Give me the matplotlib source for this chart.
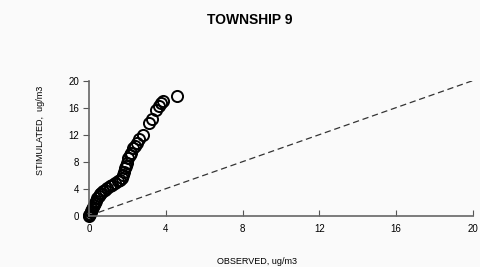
import matplotlib.pyplot as plt
import numpy as np

plt.rcParams['font.family'] = ['Liberation Sans', 'DejaVu Sans']

# observed vs simulated concentrations
observed = [0.0, 0.02, 0.05, 0.08, 0.1, 0.16, 0.2, 0.26, 0.3, 0.35, 0.42, 0.5,
            0.57, 0.65, 0.75, 0.83, 0.95, 1.1, 1.2, 1.35, 1.5, 1.62, 1.72,
            1.78, 1.82, 1.88, 1.93, 1.98, 2.03, 2.14, 2.2, 2.29, 2.4, 2.5,
            2.6, 2.81, 3.13, 3.27, 3.49, 3.65, 3.73, 3.85, 4.6]
simulated = [0.0, 0.1, 0.3, 0.5, 0.7, 1.0, 1.3, 1.6, 1.9, 2.2, 2.6, 2.9,
             3.2, 3.4, 3.6, 3.8, 4.1, 4.4, 4.6, 4.8, 5.1, 5.3, 5.6,
             6.0, 6.5, 7.1, 7.4, 7.8, 8.5, 9.0, 9.3, 10.0, 10.3, 10.8,
             11.4, 12.0, 13.8, 14.3, 15.6, 16.3, 16.7, 17.0, 17.7]

x_ticks = [0, 4, 8, 12, 16, 20]
y_ticks = [0, 4, 8, 12, 16, 20]

fig = plt.figure(figsize=(4.81, 2.67), dpi=100)
fig.patch.set_facecolor('#fafafa')
ax = fig.add_axes([0.185, 0.192, 0.798, 0.506])
ax.set_facecolor('#fafafa')

ax.plot([0, 20], [0, 20], linestyle=(0, (5, 3)), color='#333333', linewidth=0.9)
ax.plot(observed, simulated, linestyle='none', marker='o', markersize=8,
        markerfacecolor='none', markeredgecolor='black', markeredgewidth=1.4,
        clip_on=False)

ax.set_xlim(0, 20)
ax.set_ylim(0, 20)
ax.set_xticks(x_ticks)
ax.set_yticks(y_ticks)
ax.tick_params(axis='x', direction='in', length=4, labelsize=7, pad=6, color='#555555')
ax.tick_params(axis='y', direction='out', length=4, labelsize=7, pad=3, color='#555555')
for side in ['top', 'right']:
    ax.spines[side].set_visible(False)
for side in ['left', 'bottom']:
    ax.spines[side].set_color('#666666')
    ax.spines[side].set_linewidth(1.2)

fig.text(0.52, 0.925, 'TOWNSHIP 9', ha='center', va='center',
         fontsize=10, fontweight='bold')
fig.text(0.535, 0.02, 'OBSERVED, ug/m3', ha='center', va='center', fontsize=6.5)
fig.text(0.085, 0.51, 'STIMULATED,  ug/m3', ha='center', va='center',
         rotation=90, fontsize=6.5)

plt.savefig('out.png', dpi=100)
